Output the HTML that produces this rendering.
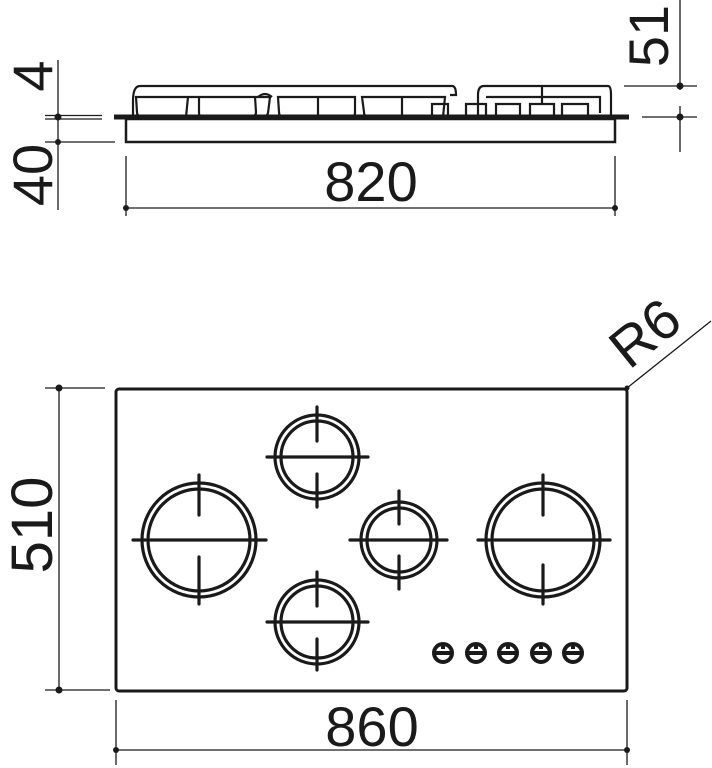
<!DOCTYPE html>
<html><head><style>body{margin:0;background:#fff}svg{display:block}</style></head>
<body>
<svg width="712" height="768" viewBox="0 0 712 768" xmlns="http://www.w3.org/2000/svg" font-family="Liberation Sans, sans-serif" fill="none" stroke="#1a1a1a">
<!-- TOP VIEW -->
<!-- left dims -->
<line x1="58" y1="60" x2="58" y2="210" stroke-width="1.3"/>
<line x1="45" y1="115.5" x2="102" y2="115.5" stroke-width="1.3"/>
<line x1="45" y1="119" x2="102" y2="119" stroke-width="1.3"/>
<line x1="45" y1="142" x2="115" y2="142" stroke-width="1.3"/>
<circle cx="58" cy="117" r="3.5" fill="#1a1a1a" stroke="none"/>
<circle cx="58" cy="142" r="3" fill="#1a1a1a" stroke="none"/>
<text transform="translate(52,76) rotate(-90)" text-anchor="middle" font-size="56" fill="#1a1a1a" stroke="none">4</text>
<text transform="translate(52,175) rotate(-90)" text-anchor="middle" font-size="56" fill="#1a1a1a" stroke="none">40</text>
<!-- right dims -->
<line x1="680" y1="0" x2="680" y2="90" stroke-width="1.3"/>
<line x1="680" y1="106" x2="680" y2="152" stroke-width="1.3"/>
<line x1="624" y1="86" x2="697" y2="86" stroke-width="1.3"/>
<line x1="642" y1="117" x2="697" y2="117" stroke-width="1.3"/>
<circle cx="680" cy="86" r="3.5" fill="#1a1a1a" stroke="none"/>
<circle cx="680" cy="117" r="3.5" fill="#1a1a1a" stroke="none"/>
<text transform="translate(668,36) rotate(-90)" text-anchor="middle" font-size="56" fill="#1a1a1a" stroke="none">51</text>
<!-- hob body -->
<line x1="114" y1="117" x2="629" y2="117" stroke-width="5"/>
<rect x="126" y="119" width="489" height="23" stroke-width="2.5"/>
<!-- grates -->
<g stroke-width="2.2">
<path d="M133,117 V101 Q133,86 140,86 H452 Q456,86 456,95 H450"/>
<path d="M136,97 H270 L268,113 Q267,117 262,117 H142 Q137,117 137,112 Z"/>
<path d="M188,97 L186,117"/>
<path d="M199,97 V113 Q199,117 203,117 H251 Q256,117 256,112 L255,97"/>
<path d="M278,97 H355 V113 Q355,117 350,117 H283 Q279,117 279,112 Z"/>
<path d="M318,97 V117"/>
<path d="M362,97 H445 L443,117 H368 Q364,117 364,112 Z"/>
<path d="M402,97 V117"/>
<path d="M258,97 Q265,91 272,97"/>
<path d="M432,104 H448 V117 H432 Z"/>
<path d="M466,104 H486 V117 H466 Z"/>
<path d="M478,117 V95 Q478,86 484,86 H608 Q611,86 611,95 V117"/>
<path d="M486,97 H600 V113"/>
<path d="M496,104 H520 V117 H496 Z"/>
<path d="M530,104 H554 V117 H530 Z"/>
<path d="M562,104 H588 V117 H562 Z"/>
<path d="M542,86 V104"/>
</g>
<!-- 820 dim -->
<line x1="126" y1="156" x2="126" y2="216" stroke-width="1.3"/>
<line x1="615" y1="156" x2="615" y2="216" stroke-width="1.3"/>
<line x1="126" y1="208" x2="615" y2="208" stroke-width="1.3"/>
<circle cx="126" cy="208" r="3" fill="#1a1a1a" stroke="none"/>
<circle cx="615" cy="208" r="3" fill="#1a1a1a" stroke="none"/>
<text x="371" y="201" text-anchor="middle" font-size="56" fill="#1a1a1a" stroke="none">820</text>

<!-- PLAN VIEW -->
<rect x="116" y="389" width="511" height="302" rx="3" stroke-width="3"/>
<!-- 510 dim -->
<line x1="59" y1="388" x2="59" y2="690" stroke-width="1.3"/>
<line x1="45" y1="388" x2="105" y2="388" stroke-width="1.3"/>
<line x1="45" y1="690" x2="110" y2="690" stroke-width="1.3"/>
<circle cx="59" cy="388" r="3.5" fill="#1a1a1a" stroke="none"/>
<circle cx="59" cy="690" r="3.5" fill="#1a1a1a" stroke="none"/>
<text transform="translate(52,525) rotate(-90)" text-anchor="middle" font-size="58" fill="#1a1a1a" stroke="none">510</text>
<!-- 860 dim -->
<line x1="116" y1="700" x2="116" y2="765" stroke-width="1.3"/>
<line x1="627" y1="700" x2="627" y2="765" stroke-width="1.3"/>
<line x1="116" y1="750" x2="627" y2="750" stroke-width="1.3"/>
<circle cx="116" cy="750" r="3" fill="#1a1a1a" stroke="none"/>
<circle cx="627" cy="750" r="3" fill="#1a1a1a" stroke="none"/>
<text x="372" y="746" text-anchor="middle" font-size="56" fill="#1a1a1a" stroke="none">860</text>
<!-- R6 -->
<line x1="627" y1="388" x2="711" y2="321" stroke-width="1.3"/>
<circle cx="627" cy="388" r="2.5" fill="#1a1a1a" stroke="none"/>
<text transform="translate(657,348) rotate(-39)" text-anchor="middle" font-size="56" fill="#1a1a1a" stroke="none">R6</text>

<!-- burners -->
<g stroke-width="3.2" stroke-linecap="round">
<!-- left big -->
<circle cx="199" cy="540" r="57"/><circle cx="199" cy="540" r="51"/>
<line x1="133" y1="540" x2="266" y2="540"/>
<line x1="199" y1="475" x2="199" y2="515"/><line x1="199" y1="557" x2="199" y2="604"/>
<!-- right big -->
<circle cx="543" cy="540" r="57"/><circle cx="543" cy="540" r="51"/>
<line x1="478" y1="540" x2="610" y2="540"/>
<line x1="543" y1="475" x2="543" y2="515"/><line x1="543" y1="565" x2="543" y2="604"/>
<!-- top -->
<circle cx="317" cy="457" r="42"/><circle cx="317" cy="457" r="36"/>
<line x1="267" y1="457" x2="368" y2="457"/>
<line x1="317" y1="407" x2="317" y2="441"/><line x1="317" y1="474" x2="317" y2="507"/>
<!-- bottom -->
<circle cx="317" cy="622" r="42"/><circle cx="317" cy="622" r="36"/>
<line x1="267" y1="622" x2="368" y2="622"/>
<line x1="317" y1="572" x2="317" y2="606"/><line x1="317" y1="639" x2="317" y2="670"/>
<!-- middle -->
<circle cx="399" cy="540" r="38"/><circle cx="399" cy="540" r="32"/>
<line x1="350" y1="540" x2="447" y2="540"/>
<line x1="399" y1="491" x2="399" y2="524"/><line x1="399" y1="556" x2="399" y2="589"/>
</g>
<!-- knobs -->
<g stroke-width="4">
<g transform="translate(443,653)"><circle r="9"/><line x1="-9" y1="0" x2="9" y2="0"/><line x1="0" y1="-9" x2="0" y2="-4"/></g>
<g transform="translate(476,653)"><circle r="9"/><line x1="-9" y1="0" x2="9" y2="0"/><line x1="0" y1="-9" x2="0" y2="-4"/></g>
<g transform="translate(508,653)"><circle r="9"/><line x1="-9" y1="0" x2="9" y2="0"/><line x1="0" y1="-9" x2="0" y2="-4"/></g>
<g transform="translate(541,653)"><circle r="9"/><line x1="-9" y1="0" x2="9" y2="0"/><line x1="0" y1="-9" x2="0" y2="-4"/></g>
<g transform="translate(573,653)"><circle r="9"/><line x1="-9" y1="0" x2="9" y2="0"/><line x1="0" y1="-9" x2="0" y2="-4"/></g>
</g>
</svg>
</body></html>
